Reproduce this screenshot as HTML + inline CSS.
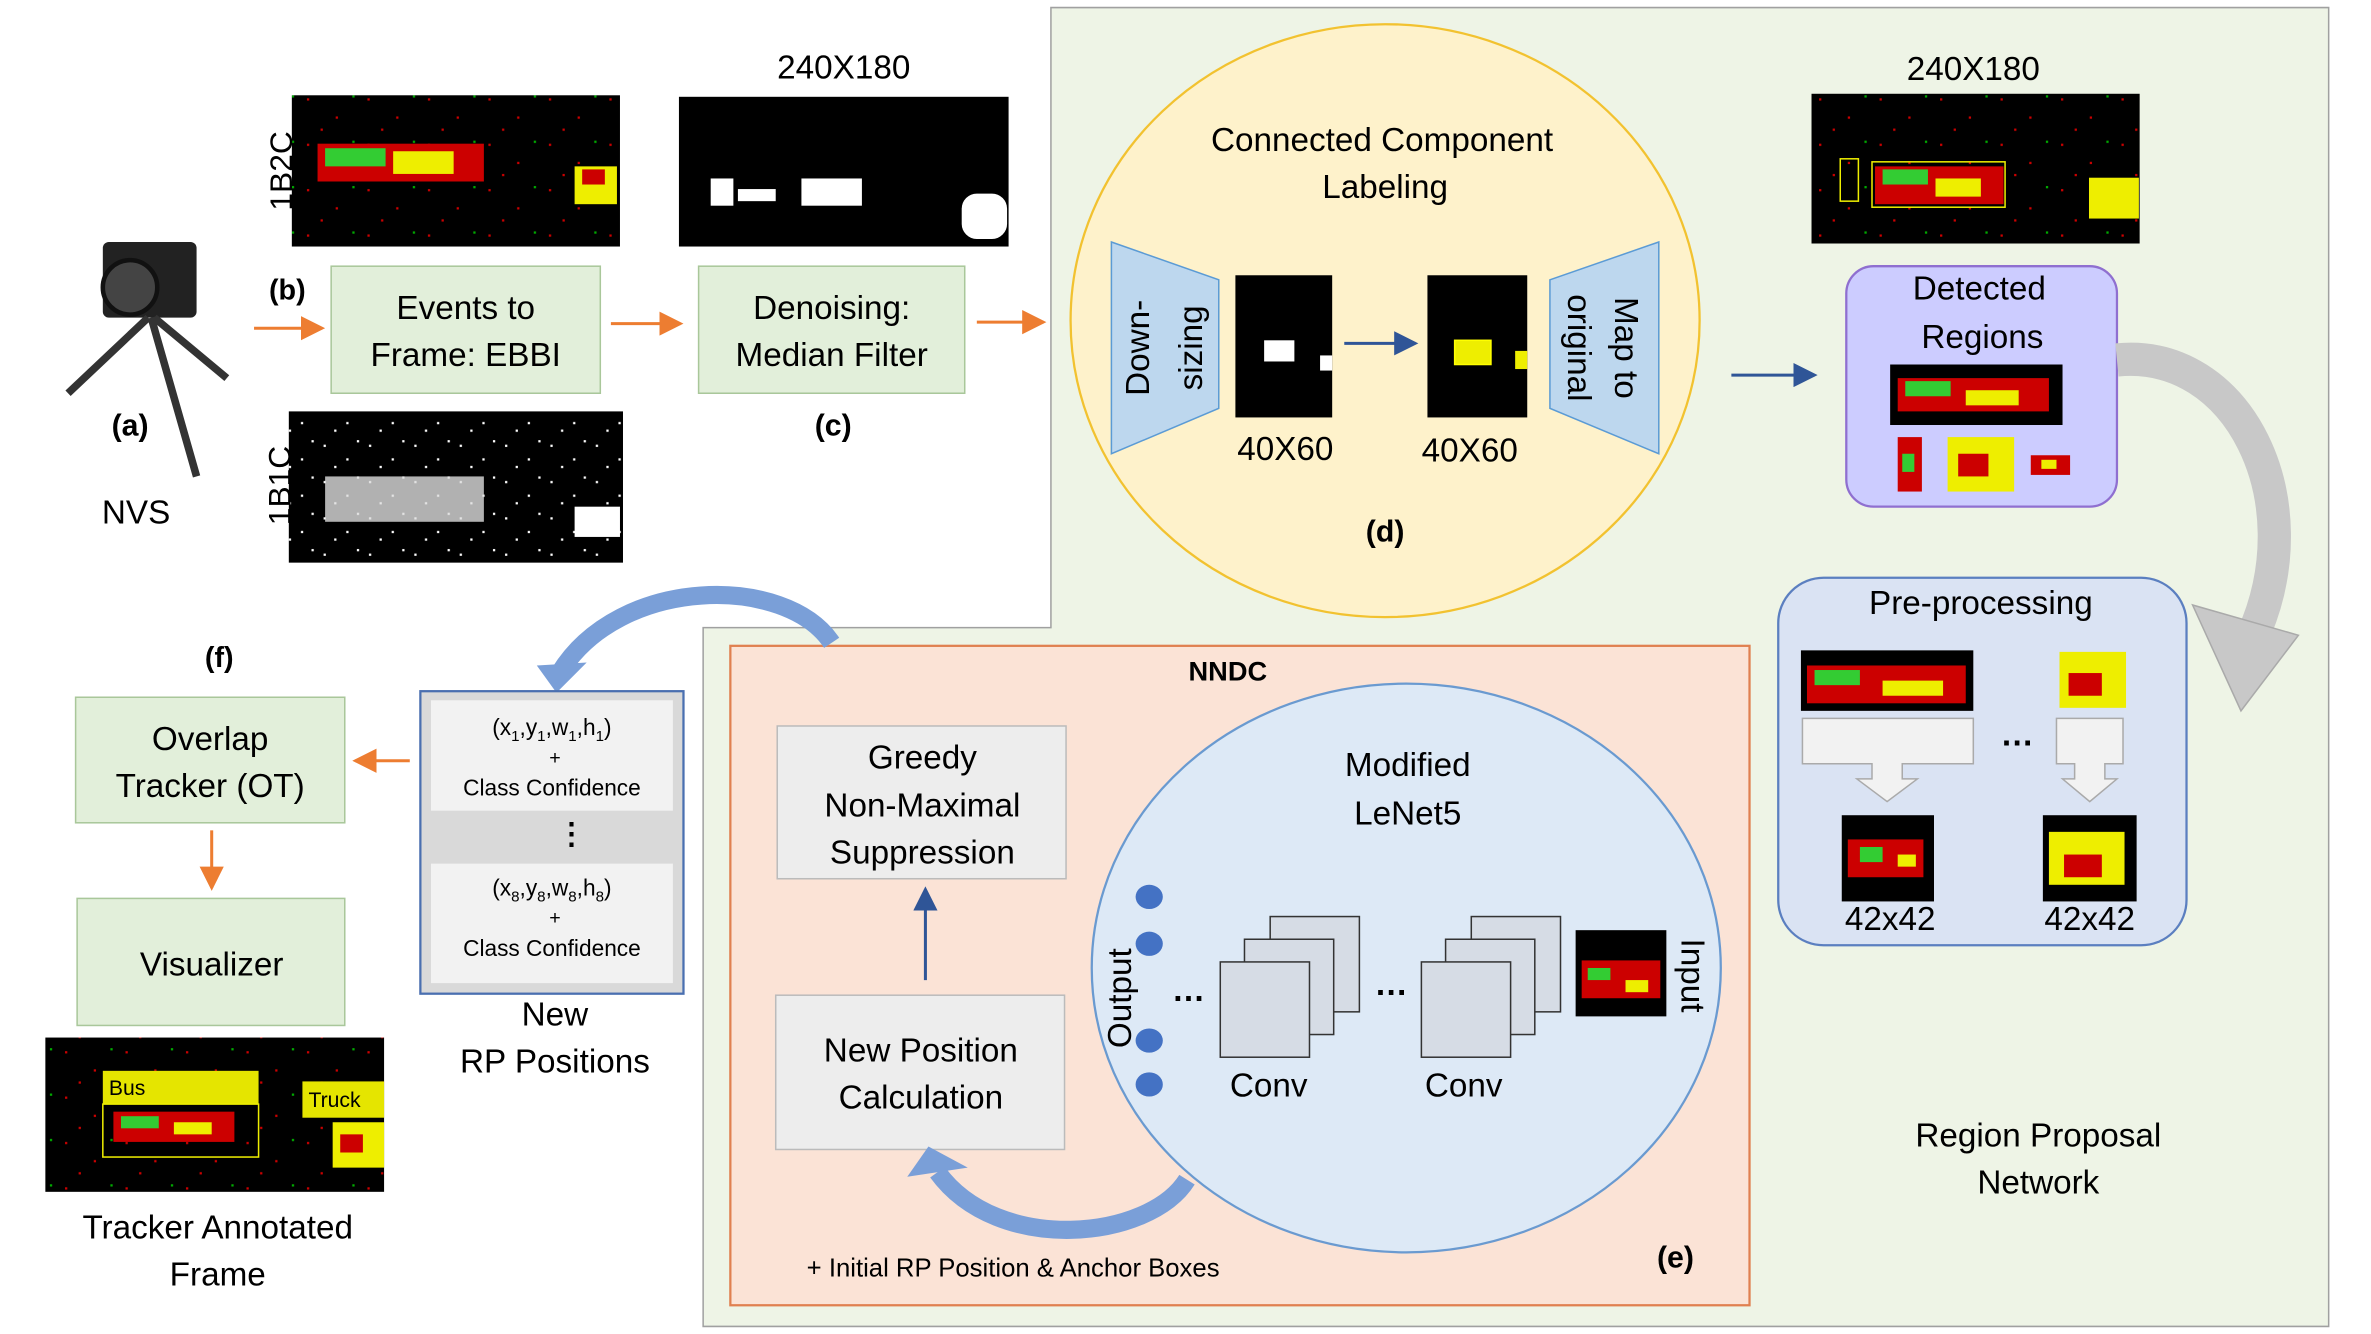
<!DOCTYPE html>
<html><head><meta charset="utf-8"><style>html,body{margin:0;padding:0;background:#fff}svg{display:block}text{font-family:"Liberation Sans",sans-serif}</style></head><body>
<svg width="2371" height="1334" viewBox="0 0 1568 882" preserveAspectRatio="none" xmlns="http://www.w3.org/2000/svg">
<defs>
<marker id="ao" markerWidth="8" markerHeight="8" refX="7" refY="4" orient="auto"><path d="M0,0L8,4L0,8z" fill="#ed7d31"/></marker>
<marker id="ab" markerWidth="8" markerHeight="8" refX="7" refY="4" orient="auto"><path d="M0,0L8,4L0,8z" fill="#2f5597"/></marker>
<pattern id="noise" width="40" height="30" patternUnits="userSpaceOnUse"><rect width="40" height="30" fill="#000"/><rect x="3" y="5" width="1.5" height="1.5" fill="#c00"/><rect x="22" y="17" width="1.5" height="1.5" fill="#c00"/><rect x="33" y="3" width="1.5" height="1.5" fill="#0a0"/><rect x="12" y="25" width="1.5" height="1.5" fill="#c00"/></pattern>
<pattern id="wn" width="30" height="24" patternUnits="userSpaceOnUse"><rect width="30" height="24" fill="#000"/><rect x="4" y="6" width="1.5" height="1.5" fill="#fff"/><rect x="19" y="15" width="1.5" height="1.5" fill="#fff"/><rect x="11" y="20" width="1.5" height="1.5" fill="#fff"/><rect x="26" y="3" width="1.5" height="1.5" fill="#fff"/></pattern>
</defs>
<rect width="1568" height="882" fill="#fff"/>
<path d="M695,5H1540V877H465V415H695Z" fill="#eef4e6" stroke="#a0a0a0" stroke-width="1"/>
<ellipse cx="916" cy="212" rx="208" ry="196" fill="#fef2cb" stroke="#f2c230" stroke-width="1.5"/>
<text x="914" y="100" font-size="22" text-anchor="middle">Connected Component</text>
<text x="916" y="131" font-size="22" text-anchor="middle">Labeling</text>
<path d="M735,160L806,185V270L735,300Z" fill="#bdd7ee" stroke="#5b9bd5"/>
<text transform="translate(760,230) rotate(-90)" font-size="22" text-anchor="middle">Down-</text>
<text transform="translate(795,230) rotate(-90)" font-size="22" text-anchor="middle">sizing</text>
<rect x="817" y="182" width="64" height="94" fill="#000"/>
<rect x="836" y="225" width="20" height="14" fill="#fff"/><rect x="873" y="235" width="8" height="10" fill="#fff"/>
<line x1="889" y1="227" x2="936" y2="227" stroke="#2f5597" stroke-width="2" marker-end="url(#ab)"/>
<rect x="944" y="182" width="66" height="94" fill="#000"/>
<rect x="962" y="225" width="24" height="16" fill="#ee0" stroke="#ff0"/><rect x="1002" y="232" width="8" height="12" fill="#ee0"/>
<path d="M1025,185L1097,160V300L1025,270Z" fill="#bdd7ee" stroke="#5b9bd5"/>
<text transform="translate(1068,230) rotate(90)" font-size="22" text-anchor="middle">Map to</text>
<text transform="translate(1037,230) rotate(90)" font-size="22" text-anchor="middle">original</text>
<text x="850" y="304" font-size="22" text-anchor="middle">40X60</text>
<text x="972" y="305" font-size="22" text-anchor="middle">40X60</text>
<text x="916" y="358" font-size="20" font-weight="bold" text-anchor="middle">(d)</text>
<rect x="68" y="160" width="62" height="50" rx="4" fill="#222"/>
<circle cx="86" cy="190" r="18" fill="#444" stroke="#111" stroke-width="3"/>
<path d="M98,210L45,260M100,210L130,315M102,210L150,250" stroke="#333" stroke-width="5"/>
<text x="86" y="288" font-size="20" font-weight="bold" text-anchor="middle">(a)</text>
<text x="90" y="346" font-size="22" text-anchor="middle">NVS</text>
<rect x="193" y="63" width="217" height="100" fill="url(#noise)"/>
<rect x="210" y="95" width="110" height="25" fill="#c00"/><rect x="215" y="98" width="40" height="12" fill="#3c3"/><rect x="260" y="100" width="40" height="15" fill="#ee0"/><rect x="380" y="110" width="28" height="25" fill="#ee0"/><rect x="385" y="112" width="15" height="10" fill="#c00"/>
<text transform="translate(193,113) rotate(-90)" font-size="21" text-anchor="middle">1B2C</text>
<rect x="191" y="272" width="221" height="100" fill="url(#wn)"/>
<rect x="215" y="315" width="105" height="30" fill="#ddd" opacity="0.8"/><rect x="380" y="335" width="30" height="20" fill="#fff"/>
<text transform="translate(192,321) rotate(-90)" font-size="21" text-anchor="middle">1B1C</text>
<text x="190" y="198" font-size="19" font-weight="bold" text-anchor="middle">(b)</text>
<line x1="168" y1="217" x2="213" y2="217" stroke="#ed7d31" stroke-width="2" marker-end="url(#ao)"/>
<rect x="219" y="176" width="178" height="84" fill="#e2efda" stroke="#a9c79a"/>
<text x="308" y="211" font-size="22" text-anchor="middle">Events to</text>
<text x="308" y="242" font-size="22" text-anchor="middle">Frame: EBBI</text>
<line x1="404" y1="214" x2="450" y2="214" stroke="#ed7d31" stroke-width="2" marker-end="url(#ao)"/>
<text x="558" y="52" font-size="22" text-anchor="middle">240X180</text>
<rect x="449" y="64" width="218" height="99" fill="#000"/>
<rect x="470" y="118" width="15" height="18" fill="#fff"/><rect x="488" y="125" width="25" height="8" fill="#fff"/><rect x="530" y="118" width="40" height="18" fill="#fff"/><rect x="636" y="128" width="30" height="30" rx="10" fill="#fff"/>
<rect x="462" y="176" width="176" height="84" fill="#e2efda" stroke="#a9c79a"/>
<text x="550" y="211" font-size="22" text-anchor="middle">Denoising:</text>
<text x="550" y="242" font-size="22" text-anchor="middle">Median Filter</text>
<text x="551" y="288" font-size="20" font-weight="bold" text-anchor="middle">(c)</text>
<line x1="646" y1="213" x2="690" y2="213" stroke="#ed7d31" stroke-width="2" marker-end="url(#ao)"/>
<text x="1305" y="53" font-size="22" text-anchor="middle">240X180</text>
<rect x="1198" y="62" width="217" height="99" fill="url(#noise)"/>
<rect x="1240" y="110" width="85" height="25" fill="#c00"/><rect x="1245" y="112" width="30" height="10" fill="#3c3"/><rect x="1280" y="118" width="30" height="12" fill="#ee0"/>
<rect x="1217" y="105" width="12" height="28" fill="none" stroke="#ee0"/><rect x="1238" y="107" width="88" height="30" fill="none" stroke="#ee0"/><rect x="1382" y="118" width="32" height="26" fill="#ee0" stroke="#ee0"/>
<line x1="1145" y1="248" x2="1200" y2="248" stroke="#2f5597" stroke-width="2" marker-end="url(#ab)"/>
<rect x="1221" y="176" width="179" height="159" rx="18" fill="#ccccff" stroke="#8f6fd0" stroke-width="1.5"/>
<text x="1309" y="198" font-size="22" text-anchor="middle">Detected</text>
<text x="1311" y="230" font-size="22" text-anchor="middle">Regions</text>
<rect x="1250" y="241" width="114" height="40" fill="#000"/><rect x="1255" y="250" width="100" height="22" fill="#c00"/><rect x="1260" y="252" width="30" height="10" fill="#3c3"/><rect x="1300" y="258" width="35" height="10" fill="#ee0"/>
<rect x="1255" y="289" width="16" height="36" fill="#c00"/><rect x="1258" y="300" width="8" height="12" fill="#3c3"/>
<rect x="1288" y="289" width="44" height="36" fill="#ee0"/><rect x="1295" y="300" width="20" height="15" fill="#c00"/>
<rect x="1343" y="301" width="26" height="13" fill="#c00"/><rect x="1350" y="304" width="10" height="6" fill="#ee0"/>
<path d="M1400,238C1480,230,1530,330,1490,420" fill="none" stroke="#c8c8c8" stroke-width="22"/>
<path d="M1450,400L1482,470L1520,420Z" fill="#c8c8c8" stroke="#aaa"/>
<rect x="1176" y="382" width="270" height="243" rx="30" fill="#dae3f3" stroke="#5b7fc0" stroke-width="1.5"/>
<text x="1310" y="406" font-size="22" text-anchor="middle">Pre-processing</text>
<rect x="1191" y="430" width="114" height="40" fill="#000"/><rect x="1195" y="440" width="105" height="25" fill="#c00"/><rect x="1200" y="443" width="30" height="10" fill="#3c3"/><rect x="1245" y="450" width="40" height="10" fill="#ee0"/>
<rect x="1362" y="431" width="44" height="37" fill="#ee0"/><rect x="1368" y="445" width="22" height="15" fill="#c00"/>
<path d="M1192,475H1305V505H1258V515H1268L1248,530L1228,515H1238V505H1192Z" fill="#f2f2f2" stroke="#aaa"/>
<path d="M1360,475H1404V505H1392V515H1400L1382,530L1364,515H1372V505H1360Z" fill="#f2f2f2" stroke="#aaa"/>
<text x="1334" y="493" font-size="22" font-weight="bold" text-anchor="middle">…</text>
<rect x="1218" y="539" width="61" height="57" fill="#000"/><rect x="1222" y="555" width="50" height="25" fill="#c00"/><rect x="1230" y="560" width="15" height="10" fill="#3c3"/><rect x="1255" y="565" width="12" height="8" fill="#ee0"/>
<rect x="1351" y="539" width="62" height="57" fill="#000"/><rect x="1355" y="550" width="50" height="35" fill="#ee0"/><rect x="1365" y="565" width="25" height="15" fill="#c00"/>
<text x="1250" y="615" font-size="22" text-anchor="middle">42x42</text>
<text x="1382" y="615" font-size="22" text-anchor="middle">42x42</text>
<text x="1348" y="758" font-size="22" text-anchor="middle">Region Proposal</text>
<text x="1348" y="789" font-size="22" text-anchor="middle">Network</text>
<rect x="483" y="427" width="674" height="436" fill="#fbe3d6" stroke="#e08050" stroke-width="1.5"/>
<text x="812" y="450" font-size="18" font-weight="bold" text-anchor="middle">NNDC</text>
<ellipse cx="930" cy="640" rx="208" ry="188" fill="#dde9f6" stroke="#6a9ad0" stroke-width="1.5"/>
<text x="931" y="513" font-size="22" text-anchor="middle">Modified</text>
<text x="931" y="545" font-size="22" text-anchor="middle">LeNet5</text>
<rect x="514" y="480" width="191" height="101" fill="#ededed" stroke="#bbb"/>
<text x="610" y="508" font-size="22" text-anchor="middle">Greedy</text>
<text x="610" y="540" font-size="22" text-anchor="middle">Non-Maximal</text>
<text x="610" y="571" font-size="22" text-anchor="middle">Suppression</text>
<line x1="612" y1="648" x2="612" y2="588" stroke="#2f5597" stroke-width="2" marker-end="url(#ab)"/>
<rect x="513" y="658" width="191" height="102" fill="#ededed" stroke="#bbb"/>
<text x="609" y="702" font-size="22" text-anchor="middle">New Position</text>
<text x="609" y="733" font-size="22" text-anchor="middle">Calculation</text>
<path d="M785,780C760,820,660,830,620,775" fill="none" stroke="#7a9fd8" stroke-width="12"/>
<path d="M600,778L614,758L640,772Z" fill="#7a9fd8"/>
<text x="670" y="844" font-size="17" text-anchor="middle">+ Initial RP Position &amp; Anchor Boxes</text>
<text x="1108" y="838" font-size="20" font-weight="bold" text-anchor="middle">(e)</text>
<g fill="#4472c4"><ellipse cx="760" cy="593" rx="9" ry="8"/><ellipse cx="760" cy="624" rx="9" ry="8"/><ellipse cx="760" cy="688" rx="9" ry="8"/><ellipse cx="760" cy="717" rx="9" ry="8"/></g>
<text transform="translate(748,660) rotate(-90)" font-size="22" text-anchor="middle">Output</text>
<text x="786" y="662" font-size="22" font-weight="bold" text-anchor="middle">…</text>
<g fill="#d6dce5" stroke="#333"><rect x="840" y="606" width="59" height="63"/><rect x="823" y="621" width="59" height="63"/><rect x="807" y="636" width="59" height="63"/>
<rect x="973" y="606" width="59" height="63"/><rect x="956" y="621" width="59" height="63"/><rect x="940" y="636" width="59" height="63"/></g>
<text x="920" y="658" font-size="22" font-weight="bold" text-anchor="middle">…</text>
<text x="839" y="725" font-size="22" text-anchor="middle">Conv</text>
<text x="968" y="725" font-size="22" text-anchor="middle">Conv</text>
<rect x="1042" y="615" width="60" height="57" fill="#000"/><rect x="1046" y="635" width="52" height="25" fill="#c00"/><rect x="1050" y="640" width="15" height="8" fill="#3c3"/><rect x="1075" y="648" width="15" height="8" fill="#ee0"/>
<text transform="translate(1112,645) rotate(90)" font-size="22" text-anchor="middle">Input</text>
<path d="M550,425C520,380,410,380,370,445" fill="none" stroke="#7a9fd8" stroke-width="12"/>
<path d="M355,440L368,458L388,438Z" fill="#7a9fd8"/>
<rect x="278" y="457" width="174" height="200" fill="#d9d9d9" stroke="#4a6fb0" stroke-width="1.5"/>
<rect x="285" y="463" width="160" height="73" fill="#f2f2f2"/>
<rect x="285" y="571" width="160" height="79" fill="#f2f2f2"/>
<text x="365" y="486" font-size="15" text-anchor="middle">(x<tspan font-size="10" dy="4">1</tspan><tspan dy="-4">,y</tspan><tspan font-size="10" dy="4">1</tspan><tspan dy="-4">,w</tspan><tspan font-size="10" dy="4">1</tspan><tspan dy="-4">,h</tspan><tspan font-size="10" dy="4">1</tspan><tspan dy="-4">)</tspan></text>
<text x="367" y="505" font-size="13" text-anchor="middle">+</text>
<text x="365" y="526" font-size="15" text-anchor="middle">Class Confidence</text>
<text x="378" y="558" font-size="20" font-weight="bold" text-anchor="middle">⋮</text>
<text x="365" y="592" font-size="15" text-anchor="middle">(x<tspan font-size="10" dy="4">8</tspan><tspan dy="-4">,y</tspan><tspan font-size="10" dy="4">8</tspan><tspan dy="-4">,w</tspan><tspan font-size="10" dy="4">8</tspan><tspan dy="-4">,h</tspan><tspan font-size="10" dy="4">8</tspan><tspan dy="-4">)</tspan></text>
<text x="367" y="611" font-size="13" text-anchor="middle">+</text>
<text x="365" y="632" font-size="15" text-anchor="middle">Class Confidence</text>
<text x="367" y="678" font-size="22" text-anchor="middle">New</text>
<text x="367" y="709" font-size="22" text-anchor="middle">RP Positions</text>
<text x="145" y="441" font-size="19" font-weight="bold" text-anchor="middle">(f)</text>
<line x1="271" y1="503" x2="235" y2="503" stroke="#ed7d31" stroke-width="2" marker-end="url(#ao)"/>
<rect x="50" y="461" width="178" height="83" fill="#e2efda" stroke="#a9c79a"/>
<text x="139" y="496" font-size="22" text-anchor="middle">Overlap</text>
<text x="139" y="527" font-size="22" text-anchor="middle">Tracker (OT)</text>
<line x1="140" y1="549" x2="140" y2="587" stroke="#ed7d31" stroke-width="2" marker-end="url(#ao)"/>
<rect x="51" y="594" width="177" height="84" fill="#e2efda" stroke="#a9c79a"/>
<text x="140" y="645" font-size="22" text-anchor="middle">Visualizer</text>
<rect x="30" y="686" width="224" height="102" fill="url(#noise)"/>
<rect x="68" y="708" width="103" height="22" fill="#e5e500"/>
<text x="72" y="724" font-size="14">Bus</text>
<rect x="68" y="730" width="103" height="35" fill="none" stroke="#ee0"/>
<rect x="75" y="735" width="80" height="20" fill="#c00"/><rect x="80" y="738" width="25" height="8" fill="#3c3"/><rect x="115" y="742" width="25" height="8" fill="#ee0"/>
<rect x="200" y="715" width="54" height="24" fill="#e5e500"/>
<text x="204" y="732" font-size="14">Truck</text>
<rect x="220" y="742" width="34" height="30" fill="#ee0"/><rect x="225" y="750" width="15" height="12" fill="#c00"/>
<text x="144" y="819" font-size="22" text-anchor="middle">Tracker Annotated</text>
<text x="144" y="850" font-size="22" text-anchor="middle">Frame</text>
</svg>
</body></html>
